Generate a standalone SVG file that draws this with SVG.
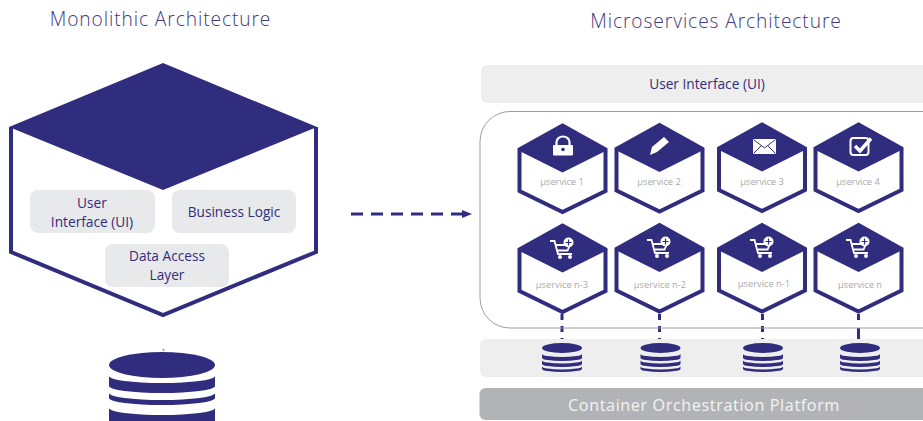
<svg xmlns="http://www.w3.org/2000/svg" xmlns:xlink="http://www.w3.org/1999/xlink" width="923" height="421" viewBox="0 0 923 421">
<style>
text{font-family:"Open Sans","Noto Sans","Liberation Sans",sans-serif;text-anchor:middle}
.title{font-size:19.200px;fill:#3d3a80;letter-spacing:.9px;font-weight:300}
.lbl{font-size:13.700px;fill:#312d7e}
.ms{font-size:9.300px;fill:#a9abae}
.panel{fill:#eeeeef}
.box{fill:#e8e9eb}
.hexo{fill:#fff;stroke:#312d7e;stroke-width:4}
.dark{fill:#312d7e}
.w{fill:#fff}
.ico{fill:none;stroke:#fff;stroke-width:1.800}
.link{stroke:#312d7e;stroke-width:3;fill:none;stroke-dasharray:12 8}
.drop{stroke:#312d7e;stroke-width:3;fill:none;stroke-dasharray:6 6}
</style>
<defs>
<g id="hex">
<path class="hexo" d="M0 -43L43 -19V22.500L0 43.500L-43 22.500V-19Z"/>
<path class="dark" d="M0 -44.500L45 -18.500L0 4L-45 -18.500Z"/>
</g>
<g id="db">
<ellipse class="dark" cx="0" cy="-3" rx="20" ry="5"/>
<path class="dark" d="M-20 3V7A20 3 0 0 0 20 7V3A20 3 0 0 1 -20 3Z"/>
<path class="dark" d="M-20 9.500V13A20 3 0 0 0 20 13V9.500A20 3 0 0 1 -20 9.500Z"/>
<path class="dark" d="M-20 15.500V18A20 3 0 0 0 20 18V15.500A20 3 0 0 1 -20 15.500Z"/>
</g>
<g id="cart">
<path class="ico" d="M-13 -5H-8.500L-5 8H9"/>
<path class="ico" d="M-7 -1H7L4.500 4.500H-5.500"/>
<circle class="w" cx="-3" cy="11" r="2"/>
<circle class="w" cx="7" cy="11" r="2"/>
<circle class="w" cx="5.500" cy="-3.500" r="5"/>
<path d="M2.500 -3.500H8.500M5.500 -6.500V-.5" stroke="#312d7e" stroke-width="1.200"/>
</g>
</defs>

<text class="title" x="160.500" y="26">Monolithic Architecture</text>
<text class="title" x="716" y="28">Microservices Architecture</text>

<g id="connectors">
<path class="link" d="M351 214H462"/>
<path class="dark" d="M462 210L472 214L462 218Z"/>
<path class="drop" d="M562 314V340"/>
<path class="drop" d="M659.500 314V340"/>
<path class="drop" d="M762.500 314V340"/>
<path class="drop" d="M858.500 314V343" style="stroke-dasharray:6 8 20 1"/>
</g>

<g id="monolith">
<path d="M11 127V252L163 315L316 252V127" fill="#fff" stroke="#312d7e" stroke-width="4"/>
<path class="dark" d="M163 63L317 127L163 190L9 127Z"/>
</g>
<g id="mono-ui">
<rect class="box" x="30" y="190" width="125" height="43" rx="8"/>
<text class="lbl" x="92" y="208">User</text>
<text class="lbl" x="92" y="227">Interface (UI)</text>
</g>
<g id="mono-bl">
<rect class="box" x="172" y="190" width="124" height="43" rx="8"/>
<text class="lbl" x="234" y="217">Business Logic</text>
</g>
<g id="mono-dal">
<rect class="box" x="105" y="244" width="124" height="43" rx="8"/>
<text class="lbl" x="167" y="261">Data Access</text>
<text class="lbl" x="167" y="280">Layer</text>
</g>
<g id="mono-db">
<path d="M162 349H165L163.500 352Z" fill="#a9abae"/>
<ellipse class="dark" cx="162" cy="365" rx="53" ry="13"/>
<path class="dark" d="M109 376V386A53 7 0 0 0 215 386V376A53 7 0 0 1 109 376Z"/>
<path class="dark" d="M109 393V398A53 7 0 0 0 215 398V393A53 7 0 0 1 109 393Z"/>
<path class="dark" d="M109 408V421H215V408A53 7 0 0 1 109 408Z"/>
</g>

<g id="ui-panel">
<rect class="panel" x="481" y="65" width="460" height="38" rx="6"/>
<text class="lbl" x="707" y="89">User Interface (UI)</text>
</g>
<g id="container">
<rect x="480" y="111.500" width="480" height="216.500" rx="30" fill="none" stroke="#9c9ea1" stroke-width="1"/>
</g>
<g id="db-panel">
<rect class="panel" x="480" y="339" width="460" height="38" rx="6"/>
</g>
<g id="platform">
<rect x="479.500" y="388" width="460" height="32" rx="6" fill="#b1b3b6"/>
<text x="704" y="410.500" style="font-size:16.200px;fill:#f4f4f5;letter-spacing:.6px">Container Orchestration Platform</text>
</g>

<g id="svc-1">
<use xlink:href="#hex" href="#hex" transform="translate(562.500,168.500)"/>
<rect class="w" x="553" y="145" width="20" height="10.500" rx="1"/>
<path class="ico" d="M556.500 145V142A6.500 5.500 0 0 1 569.500 142V145" style="stroke-width:2.200"/>
<circle cx="563" cy="149.500" r="1.800" fill="#312d7e"/>
<text class="ms" x="562" y="185">µservice 1</text>
</g>
<g id="svc-2">
<use xlink:href="#hex" href="#hex" transform="translate(659.500,168)"/>
<path class="w" d="M650 155L652 147L664 137L669 142L657 152Z"/>
<text class="ms" x="659" y="185">µservice 2</text>
</g>
<g id="svc-3">
<use xlink:href="#hex" href="#hex" transform="translate(762,167.500)"/>
<rect class="w" x="753" y="139" width="23" height="15"/>
<path d="M753.500 139.500L764.500 148L775.500 139.500M753.500 153.500L761 146M775.500 153.500L768 146" fill="none" stroke="#312d7e" stroke-width="1"/>
<text class="ms" x="762" y="184.500">µservice 3</text>
</g>
<g id="svc-4">
<use xlink:href="#hex" href="#hex" transform="translate(858.500,167.500)"/>
<rect x="850.500" y="138" width="18" height="17" rx="3" fill="none" stroke="#fff" stroke-width="2"/>
<path d="M855 146L860 151L871 138.500" fill="none" stroke="#fff" stroke-width="3.500"/>
<text class="ms" x="858" y="185">µservice 4</text>
</g>
<g id="svc-n-3">
<use xlink:href="#hex" href="#hex" transform="translate(562.500,268.500)"/>
<use xlink:href="#cart" href="#cart" transform="translate(563,246)"/>
<text class="ms" x="562" y="288">µservice n-3</text>
</g>
<g id="svc-n-2">
<use xlink:href="#hex" href="#hex" transform="translate(659.500,268)"/>
<use xlink:href="#cart" href="#cart" transform="translate(660,245)"/>
<text class="ms" x="660" y="288">µservice n-2</text>
</g>
<g id="svc-n-1">
<use xlink:href="#hex" href="#hex" transform="translate(762,268)"/>
<use xlink:href="#cart" href="#cart" transform="translate(763,245)"/>
<text class="ms" x="764" y="287">µservice n-1</text>
</g>
<g id="svc-n">
<use xlink:href="#hex" href="#hex" transform="translate(858.500,268)"/>
<use xlink:href="#cart" href="#cart" transform="translate(859,245)"/>
<text class="ms" x="860" y="288">µservice n</text>
</g>

<g id="db-1"><use xlink:href="#db" href="#db" transform="translate(562,351)"/></g>
<g id="db-2"><use xlink:href="#db" href="#db" transform="translate(660.500,351)"/></g>
<g id="db-3"><use xlink:href="#db" href="#db" transform="translate(763,351)"/></g>
<g id="db-4"><use xlink:href="#db" href="#db" transform="translate(860,351)"/></g>
</svg>
